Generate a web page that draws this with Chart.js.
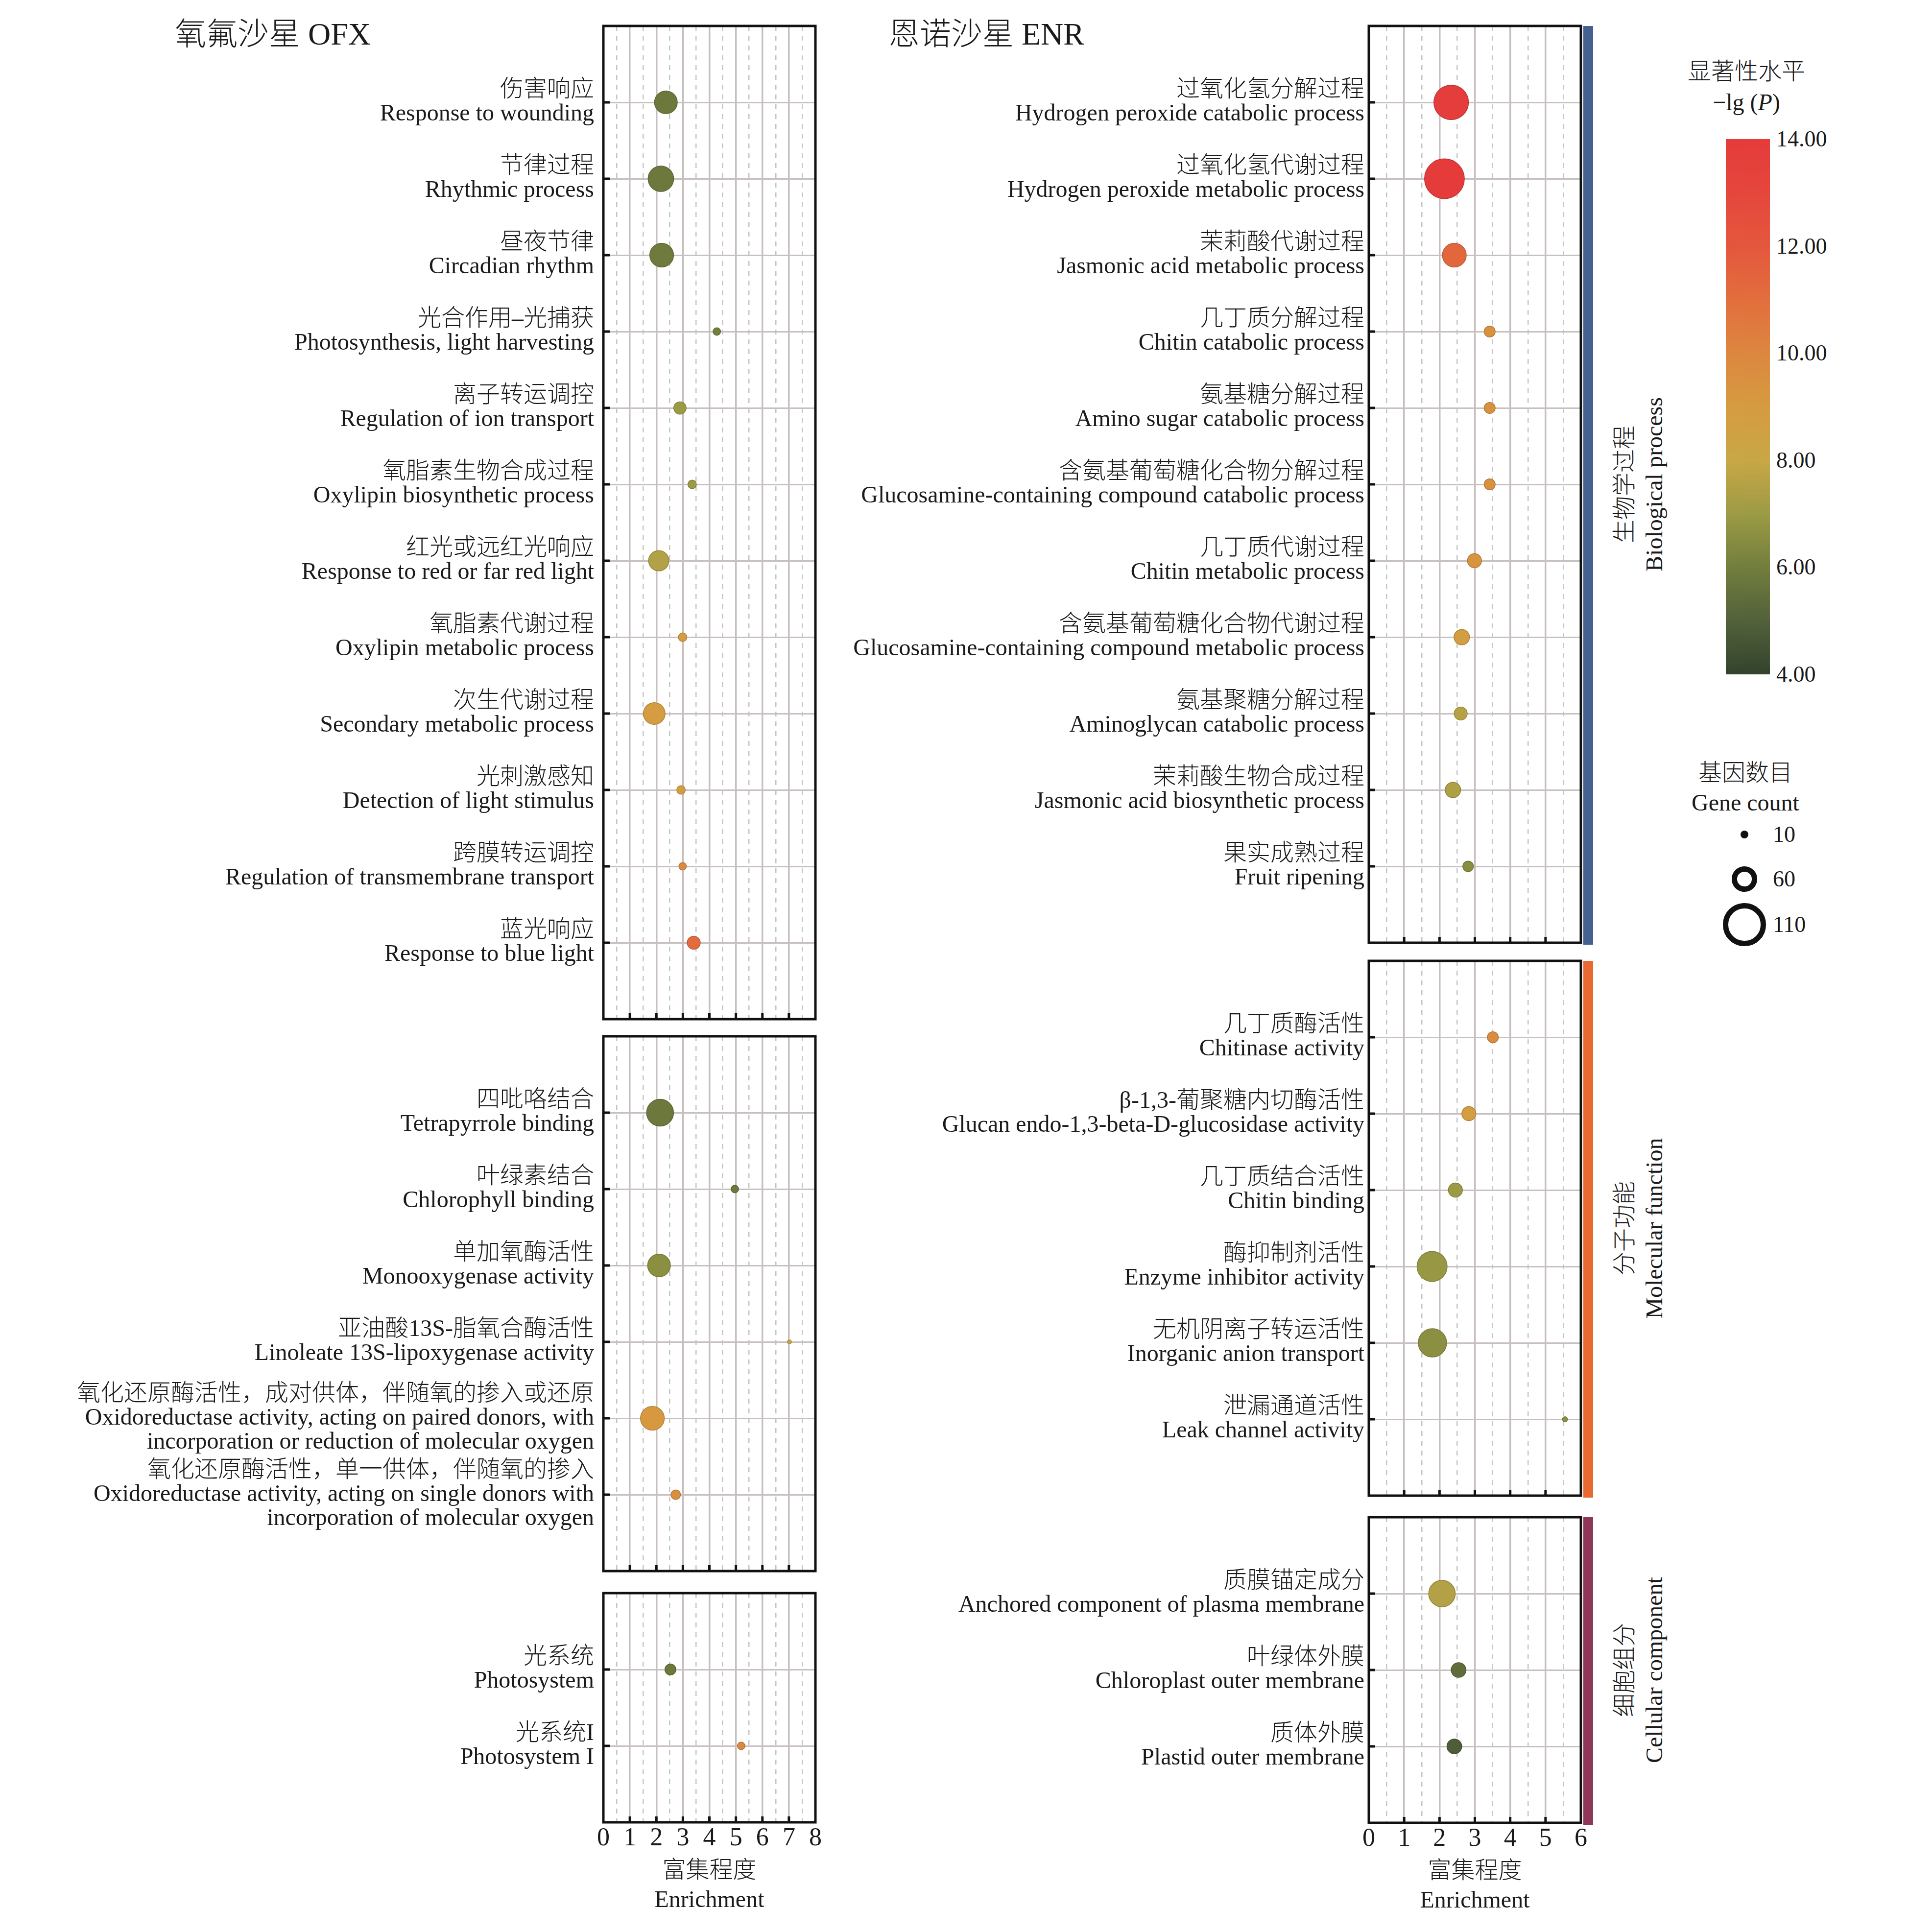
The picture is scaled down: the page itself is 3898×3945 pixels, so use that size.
<!DOCTYPE html>
<html><head><meta charset="utf-8">
<script src="https://cdn.jsdelivr.net/npm/chart.js@4.4.1/dist/chart.umd.min.js"></script>
<style>
html,body{margin:0;padding:0;background:#fff;}
#page{position:relative;width:3898px;height:3945px;background:#fff;overflow:hidden;font-family:'Liberation Serif','Noto Sans CJK SC',serif;font-weight:300;color:#1a1a1a;}
#page canvas{position:absolute;}
.t{position:absolute;white-space:nowrap;line-height:1;}
</style></head><body><div id="page"></div>
<script>
// ---------------- DATA ----------------
const ofxBpZh = ['伤害响应','节律过程','昼夜节律','光合作用–光捕获','离子转运调控','氧脂素生物合成过程','红光或远红光响应','氧脂素代谢过程','次生代谢过程','光刺激感知','跨膜转运调控','蓝光响应'];
const ofxBpEn = ['Response to wounding','Rhythmic process','Circadian rhythm','Photosynthesis, light harvesting','Regulation of ion transport','Oxylipin biosynthetic process','Response to red or far red light','Oxylipin metabolic process','Secondary metabolic process','Detection of light stimulus','Regulation of transmembrane transport','Response to blue light'];
const ofxBpEnrich = [2.36, 2.17, 2.20, 4.28, 2.89, 3.35, 2.09, 2.99, 1.92, 2.93, 2.99, 3.41];
const ofxBpCount  = [55, 63, 58, 11, 25, 14, 48, 14, 52, 14, 11, 27];
const ofxBpLgP    = [5.8, 5.8, 5.9, 6.0, 7.0, 7.0, 7.5, 8.8, 8.9, 8.8, 9.8, 11.1];

const ofxMfZh = ['四吡咯结合','叶绿素结合','单加氧酶活性','亚油酸13S-脂氧合酶活性','氧化还原酶活性，成对供体，伴随氧的掺入或还原','氧化还原酶活性，单一供体，伴随氧的掺入'];
const ofxMfEn = ['Tetrapyrrole binding','Chlorophyll binding','Monooxygenase activity','Linoleate 13S-lipoxygenase activity','Oxidoreductase activity, acting on paired donors, with\nincorporation or reduction of molecular oxygen','Oxidoreductase activity, acting on single donors with\nincorporation of molecular oxygen'];
const ofxMfEnrich = [2.14, 4.96, 2.10, 7.02, 1.85, 2.73];
const ofxMfCount  = [67, 11, 55, 1, 58, 17];
const ofxMfLgP    = [5.8, 5.8, 6.6, 8.0, 9.1, 9.6];

const ofxCcZh = ['光系统','光系统I'];
const ofxCcEn = ['Photosystem','Photosystem I'];
const ofxCcEnrich = [2.53, 5.20];
const ofxCcCount  = [21, 11];
const ofxCcLgP    = [5.8, 9.9];

const enrBpZh = ['过氧化氢分解过程','过氧化氢代谢过程','茉莉酸代谢过程','几丁质分解过程','氨基糖分解过程','含氨基葡萄糖化合物分解过程','几丁质代谢过程','含氨基葡萄糖化合物代谢过程','氨基聚糖分解过程','茉莉酸生物合成过程','果实成熟过程'];
const enrBpEn = ['Hydrogen peroxide catabolic process','Hydrogen peroxide metabolic process','Jasmonic acid metabolic process','Chitin catabolic process','Amino sugar catabolic process','Glucosamine-containing compound catabolic process','Chitin metabolic process','Glucosamine-containing compound metabolic process','Aminoglycan catabolic process','Jasmonic acid biosynthetic process','Fruit ripening'];
const enrBpEnrich = [2.33, 2.14, 2.42, 3.42, 3.42, 3.42, 2.99, 2.63, 2.60, 2.38, 2.81];
const enrBpCount  = [89, 104, 58, 21, 21, 21, 30, 34, 27, 34, 20];
const enrBpLgP    = [13.8, 14.0, 11.3, 9.5, 9.5, 9.5, 9.3, 8.8, 7.6, 7.4, 6.5];

const enrMfZh = ['几丁质酶活性','β-1,3-葡聚糖内切酶活性','几丁质结合活性','酶抑制剂活性','无机阴离子转运活性','泄漏通道活性'];
const enrMfEn = ['Chitinase activity','Glucan endo-1,3-beta-D-glucosidase activity','Chitin binding','Enzyme inhibitor activity','Inorganic anion transport','Leak channel activity'];
const enrMfEnrich = [3.51, 2.83, 2.45, 1.79, 1.80, 5.55];
const enrMfCount  = [21, 30, 30, 76, 71, 4];
const enrMfLgP    = [9.7, 8.8, 7.0, 6.9, 6.6, 6.6];

const enrCcZh = ['质膜锚定成分','叶绿体外膜','质体外膜'];
const enrCcEn = ['Anchored component of plasma membrane','Chloroplast outer membrane','Plastid outer membrane'];
const enrCcEnrich = [2.07, 2.54, 2.42];
const enrCcCount  = [66, 32, 32];
const enrCcLgP    = [7.5, 5.4, 4.9];

const ofxXTicksMax = 8;
const enrXTicksMax = 6;
const colorTicks = [14, 12, 10, 8, 6, 4];
const sizeLegend = [10, 60, 110];
const groupZh = ['生物学过程','分子功能','细胞组分'];
const groupEn = ['Biological process','Molecular function','Cellular component'];

// ---------------- STYLE / SCALES ----------------
const FONT = "'Liberation Serif', 'Noto Sans CJK SC', serif";
const TXT = '#1a1a1a';
const colorStops = [[4,'#33432c'],[5,'#52613a'],[6,'#727e3d'],[7,'#9c9b45'],[8,'#c8a746'],[9,'#d69b40'],[10,'#dc8740'],[11,'#e26e3d'],[12,'#e4573d'],[13,'#e5463c'],[14,'#e53b3b']];
function hex2rgb(h){return [parseInt(h.substr(1,2),16),parseInt(h.substr(3,2),16),parseInt(h.substr(5,2),16)];}
function colorOf(v, k){
  k = k||1;
  v = Math.max(4, Math.min(14, v));
  let i = 0; while (i < colorStops.length-2 && v > colorStops[i+1][0]) i++;
  const [v0,c0] = colorStops[i], [v1,c1] = colorStops[i+1];
  const f = (v-v0)/(v1-v0), a = hex2rgb(c0), b = hex2rgb(c1);
  const c = a.map((x,j)=>Math.round((x+(b[j]-x)*f)*k));
  return 'rgb('+c.join(',')+')';
}
function diamOf(count){ return 9 + 0.71*count; }

const ROW = 156;
const page = document.getElementById('page');

const framePlugin = {
  id:'frame',
  afterDraw(chart){
    const {ctx, chartArea:a, scales} = chart;
    ctx.save();
    ctx.strokeStyle = '#111'; ctx.lineWidth = 5; ctx.lineCap = 'butt';
    scales.y.ticks.forEach(t=>{ const y = scales.y.getPixelForValue(t.value); ctx.beginPath(); ctx.moveTo(a.left, y); ctx.lineTo(a.left+13, y); ctx.stroke(); });
    scales.x.ticks.forEach(t=>{ if (t.value<=scales.x.min || t.value>=scales.x.max) return; const x = scales.x.getPixelForValue(t.value); ctx.beginPath(); ctx.moveTo(x, a.bottom); ctx.lineTo(x, a.bottom-12); ctx.stroke(); });
    ctx.strokeRect(a.left, a.top, a.right-a.left, a.bottom-a.top);
    ctx.restore();
  }
};

function noPad(s){ s.paddingTop = 0; s.paddingBottom = 0; s.paddingLeft = 0; s.paddingRight = 0; }

function makePanel(p){
  const n = p.zh.length;
  const labels = p.zh.map((z,i)=>[z].concat(p.en[i].split('\n')));
  const AXH = 200;
  const cTop = p.top - 10;
  const cW = p.right + 20 - p.cLeft;
  const cH = 10 + (n+1)*ROW + (p.bottom ? AXH : 10);
  const cv = document.createElement('canvas');
  cv.width = cW; cv.height = cH;
  cv.style.left = p.cLeft+'px'; cv.style.top = cTop+'px';
  cv.style.width = cW+'px'; cv.style.height = cH+'px';
  page.appendChild(cv);
  const pts = p.enrich.map((x,i)=>({x:x, y:i, r:(diamOf(p.count[i])-1.5)/2}));
  const half = [];
  for (let v=0.5; v<p.xmax; v+=1) half.push({value:v});
  new Chart(cv, {
    type:'bubble',
    data:{datasets:[{data:pts,
      backgroundColor:p.lgp.map(v=>colorOf(v)),
      borderColor:p.lgp.map(v=>colorOf(v,0.82)),
      borderWidth:1.5, clip:false}]},
    options:{
      responsive:false, animation:false, devicePixelRatio:1,
      events:[],
      layout:{autoPadding:false, padding:{left:0, top:10, right:20, bottom:p.bottom?0:10}},
      plugins:{legend:{display:false}, tooltip:{enabled:false}},
      scales:{
        x:{type:'linear', position:'bottom', min:0, max:p.xmax,
           ticks:{stepSize:1, display:p.bottom, autoSkip:false, maxRotation:0, padding:2, color:TXT, font:{family:FONT, size:52, weight:300}},
           grid:{color:'#c7bfbf', lineWidth:3.5, drawTicks:false},
           border:{display:false},
           title:{display:p.bottom, text:['富集程度','Enrichment'], color:TXT, font:{family:FONT, size:48, weight:300, lineHeight:1.25}, padding:{top:0, bottom:10}},
           afterFit:(s)=>{ s.height = p.bottom ? AXH : 0; noPad(s); }
        },
        xh:{type:'linear', position:'top', min:0, max:p.xmax,
           afterBuildTicks:(s)=>{ s.ticks = half.map(h=>({value:h.value})); },
           ticks:{display:false},
           grid:{color:'#c4c4c4', lineWidth:2.5, drawTicks:false},
           border:{display:false, dash:[10,10]},
           afterFit:(s)=>{ s.height = 0; noPad(s); }
        },
        y:{type:'linear', position:'left', min:-1, max:n, reverse:true,
           afterBuildTicks:(s)=>{ s.ticks = labels.map((_,i)=>({value:i})); },
           ticks:{autoSkip:false, padding:p.pad, color:TXT, font:{family:FONT, size:48, weight:300, lineHeight:1.02}, callback:(v)=>labels[v]},
           grid:{color:'#c8c0c0', lineWidth:3, drawTicks:false},
           border:{display:false},
           afterFit:(s)=>{ s.width = p.left - p.cLeft; noPad(s); }
        }
      }
    },
    plugins:[framePlugin]
  });
}

const panels = [
  {zh:ofxBpZh, en:ofxBpEn, enrich:ofxBpEnrich, count:ofxBpCount, lgp:ofxBpLgP, cLeft:0, left:1232, right:1665, top:53, xmax:ofxXTicksMax, pad:19, bottom:false},
  {zh:ofxMfZh, en:ofxMfEn, enrich:ofxMfEnrich, count:ofxMfCount, lgp:ofxMfLgP, cLeft:0, left:1232, right:1665, top:2116, xmax:ofxXTicksMax, pad:19, bottom:false},
  {zh:ofxCcZh, en:ofxCcEn, enrich:ofxCcEnrich, count:ofxCcCount, lgp:ofxCcLgP, cLeft:0, left:1232, right:1665, top:3253, xmax:ofxXTicksMax, pad:19, bottom:true},
  {zh:enrBpZh, en:enrBpEn, enrich:enrBpEnrich, count:enrBpCount, lgp:enrBpLgP, cLeft:1700, left:2795, right:3228, top:53, xmax:enrXTicksMax, pad:9, bottom:false},
  {zh:enrMfZh, en:enrMfEn, enrich:enrMfEnrich, count:enrMfCount, lgp:enrMfLgP, cLeft:1700, left:2795, right:3228, top:1962, xmax:enrXTicksMax, pad:9, bottom:false},
  {zh:enrCcZh, en:enrCcEn, enrich:enrCcEnrich, count:enrCcCount, lgp:enrCcLgP, cLeft:1700, left:2795, right:3228, top:3098, xmax:enrXTicksMax, pad:9, bottom:true}
];
panels.forEach(makePanel);

// ---------------- TEXT / LEGENDS (HTML) ----------------
function addText(html, x, y, size, opts){
  opts = opts||{};
  const d = document.createElement('div');
  d.className = 't'; d.innerHTML = html;
  d.style.fontSize = size+'px';
  d.style.left = x+'px'; d.style.top = y+'px';
  let tf = 'translate(' + (opts.ax===undefined? '0' : opts.ax) + ',-50%)';
  if (opts.rot) tf += ' rotate('+opts.rot+'deg)';
  d.style.transform = tf;
  if (opts.lh) d.style.lineHeight = opts.lh+'px';
  if (opts.align) d.style.textAlign = opts.align;
  page.appendChild(d);
  return d;
}
addText('氧氟沙星 OFX', 357, 70, 64);
addText('恩诺沙星 ENR', 1814, 70, 64);

// group bars + rotated labels
const groupSpans = [[53,1925,'#44618f'],[1962,3054,'#e96a30'],[3098,3722,'#8f3758']];
groupSpans.forEach((g,i)=>{
  const b = document.createElement('div');
  b.style.cssText = 'position:absolute;left:3233px;width:20px;top:'+g[0]+'px;height:'+(g[1]-g[0]+4)+'px;background:'+g[2]+';';
  page.appendChild(b);
  addText(groupZh[i]+'<br>'+groupEn[i], 3347, (g[0]+g[1])/2, 48, {ax:'-50%', rot:-90, lh:61, align:'center'});
});

// color bar
const cbTop = 284, cbBot = 1377, cbLeft = 3524, cbW = 90;
const cb = document.createElement('div');
const grad = colorStops.map(s=>s[1]+' '+((s[0]-4)/10*100).toFixed(1)+'%').join(',');
cb.style.cssText = 'position:absolute;left:'+cbLeft+'px;top:'+cbTop+'px;width:'+cbW+'px;height:'+(cbBot-cbTop)+'px;background:linear-gradient(to top,'+grad+');';
page.appendChild(cb);
colorTicks.forEach(v=>{
  const y = cbBot - (v-4)/10*(cbBot-cbTop);
  addText(v.toFixed(2), 3627, y, 46);
});
addText('显著性水平', 3566, 146, 48, {ax:'-50%'});
addText('−lg (<i>P</i>)', 3566, 209, 48, {ax:'-50%'});

// size legend
addText('基因数目', 3564, 1578, 48, {ax:'-50%'});
addText('Gene count', 3564, 1639, 48, {ax:'-50%'});
const legY = [1704, 1795, 1888];
sizeLegend.forEach((c,i)=>{
  const d = diamOf(c);
  const bw = Math.min(d/2, 11);
  const e = document.createElement('div');
  e.style.cssText = 'position:absolute;box-sizing:border-box;border-radius:50%;border:'+bw+'px solid #111;background:#111;width:'+d+'px;height:'+d+'px;left:'+(3562-d/2)+'px;top:'+(legY[i]-d/2)+'px;';
  if (d/2 > bw) e.style.background = '#fff';
  page.appendChild(e);
  addText(String(c), 3620, legY[i], 46);
});
</script>
</body></html>
